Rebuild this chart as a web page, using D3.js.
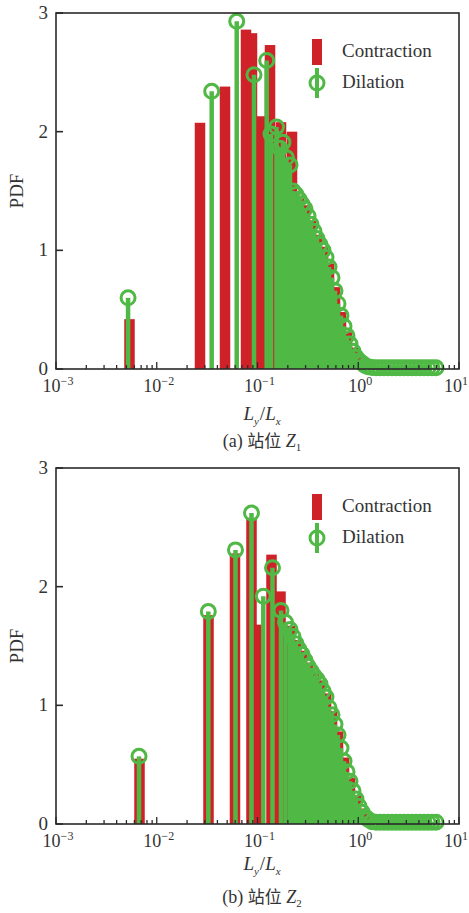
<!DOCTYPE html>
<html><head><meta charset="utf-8">
<script src="https://cdn.jsdelivr.net/npm/d3@7"></script>
<style>body{margin:0;background:#fff}svg{display:block}</style>
</head><body>
<script>
// ---------- DATA ----------
const xTickExponents = [-3, -2, -1, 0, 1];
const yTicks = [0, 1, 2, 3];
const seriesNames = ["Contraction", "Dilation"];
const captionLetters = ["a", "b"];
const captionSubs = ["1", "2"];

// Panel (a) — station Z1
const contractionXA = [0.005364, 0.02687, 0.04757, 0.07689, 0.08818, 0.1083, 0.1331, 0.1711, 0.2200,
  0.2582, 0.2961, 0.3396, 0.3895, 0.4468, 0.5125, 0.5878, 0.6742, 0.7733, 0.8869, 1.017, 1.167,
  1.501, 2.162, 3.117, 4.493];
const contractionYA = [0.42, 2.075, 2.38, 2.86, 2.83, 2.13, 2.73, 2.08, 2.00,
  1.46, 1.38, 1.25, 1.13, 1.03, 0.89, 0.69, 0.48, 0.31, 0.18, 0.10, 0.06,
  0.02, 0.02, 0.02, 0.02];
const dilationXA = [0.00519, 0.0351, 0.0622, 0.0923, 0.1234, 0.1361, 0.1544, 0.1672, 0.1791, 0.1940, 0.2102,
  0.2251, 0.2411, 0.2582, 0.2765, 0.2961, 0.3171, 0.3396, 0.3637, 0.3895, 0.4172, 0.4468, 0.4785,
  0.5125, 0.5488, 0.5878, 0.6295, 0.6742, 0.7220, 0.7733, 0.8281, 0.8869, 0.9499, 1.017, 1.090,
  1.167, 1.250, 1.369, 1.501, 1.644, 1.801, 1.974, 2.162, 2.369, 2.596, 2.844, 3.117, 3.415,
  3.742, 4.101, 4.493, 4.923, 5.395, 5.911];
const dilationYA = [0.60, 2.34, 2.93, 2.48, 2.60, 1.98, 2.04, 1.86, 1.91, 1.78, 1.72,
  1.50, 1.47, 1.43, 1.39, 1.35, 1.29, 1.22, 1.16, 1.10, 1.05, 1.00, 0.94,
  0.86, 0.77, 0.66, 0.55, 0.45, 0.36, 0.28, 0.21, 0.15, 0.10, 0.07, 0.05,
  0.03, 0.02, 0.012, 0.01, 0.01, 0.01, 0.01, 0.01, 0.01, 0.01, 0.01, 0.01, 0.01,
  0.01, 0.01, 0.01, 0.01, 0.01, 0.01];

// Panel (b) — station Z2
const contractionXB = [0.006742, 0.03264, 0.05979, 0.08718, 0.1023, 0.1377, 0.1692,
  0.2102, 0.2411, 0.2765, 0.3171, 0.3637, 0.4172, 0.4785, 0.5488, 0.6295, 0.7220, 0.8281,
  0.9499, 1.090, 1.250, 1.501, 2.162, 3.117, 4.493];
const contractionYB = [0.55, 1.76, 2.28, 2.58, 1.68, 2.27, 1.96,
  1.67, 1.55, 1.46, 1.36, 1.28, 1.21, 1.10, 0.95, 0.78, 0.56, 0.39,
  0.24, 0.13, 0.07, 0.02, 0.02, 0.02, 0.02];
const dilationXB = [0.006665, 0.03249, 0.06048, 0.08718, 0.1142, 0.1409, 0.1711, 0.1897, 0.2102,
  0.2251, 0.2411, 0.2582, 0.2765, 0.2961, 0.3171, 0.3396, 0.3637, 0.3895, 0.4172, 0.4468, 0.4785,
  0.5125, 0.5488, 0.5878, 0.6295, 0.6742, 0.7220, 0.7733, 0.8281, 0.8869, 0.9499, 1.017, 1.090,
  1.167, 1.250, 1.369, 1.501, 1.644, 1.801, 1.974, 2.162, 2.369, 2.596, 2.844, 3.117, 3.415,
  3.742, 4.101, 4.493, 4.923, 5.395, 5.911];
const dilationYB = [0.57, 1.79, 2.31, 2.62, 1.92, 2.16, 1.80, 1.70, 1.64,
  1.58, 1.52, 1.47, 1.43, 1.38, 1.33, 1.29, 1.25, 1.22, 1.18, 1.12, 1.07,
  0.98, 0.92, 0.84, 0.75, 0.64, 0.53, 0.44, 0.36, 0.28, 0.21, 0.15, 0.10,
  0.06, 0.04, 0.02, 0.015, 0.015, 0.015, 0.015, 0.015, 0.015, 0.015, 0.015, 0.015, 0.015,
  0.015, 0.015, 0.015, 0.015, 0.015, 0.015];

// ---------- DRAWING ----------
const W = 469, H = 913;
const RED = "#cf2128", GREEN = "#50b946";
const SERIF = "'Liberation Serif','Times New Roman',serif";
const CJK = "'Noto Sans CJK SC','Noto Sans CJK JP',sans-serif";
const INK = "#2a2a2a";
const svg = d3.select("body").append("svg").attr("width", W).attr("height", H);

const panels = [
  {top: 13, bottom: 369, cx: contractionXA, cy: contractionYA, dx: dilationXA, dy: dilationYA,
   labelBase: 420, capBase: 447, idx: 0},
  {top: 468, bottom: 824, cx: contractionXB, cy: contractionYB, dx: dilationXB, dy: dilationYB,
   labelBase: 870, capBase: 903, idx: 1}
];

panels.forEach(p => {
  const g = svg.append("g");
  const x = d3.scaleLog().domain([1e-3, 1e1]).range([56, 459]);
  const y = d3.scaleLinear().domain([0, 3]).range([p.bottom, p.top]);
  const barW = 10.5;

  // contraction bars
  g.append("g").selectAll("rect").data(d3.zip(p.cx, p.cy)).join("rect")
    .attr("x", d => x(d[0]) - barW / 2).attr("width", barW)
    .attr("y", d => y(d[1])).attr("height", d => y(0) - y(d[1]))
    .attr("fill", RED);

  // dilation stems + open circle markers
  const dd = d3.zip(p.dx, p.dy);
  g.append("g").selectAll("line").data(dd).join("line")
    .attr("x1", d => x(d[0])).attr("x2", d => x(d[0]))
    .attr("y1", y(0)).attr("y2", d => y(d[1]))
    .attr("stroke", GREEN).attr("stroke-width", 4.5);
  g.append("g").selectAll("circle").data(dd).join("circle")
    .attr("cx", d => x(d[0])).attr("cy", d => y(d[1])).attr("r", 7)
    .attr("fill", "none").attr("stroke", GREEN).attr("stroke-width", 3);

  // frame
  g.append("rect").attr("x", 56).attr("y", p.top).attr("width", 403).attr("height", p.bottom - p.top)
    .attr("fill", "none").attr("stroke", INK).attr("stroke-width", 1.6);

  // x ticks (major + minor, inward)
  const minor = [];
  for (let e = -3; e < 1; e++) for (let m = 2; m <= 9; m++) minor.push(m * Math.pow(10, e));
  g.append("g").selectAll("line").data(minor).join("line")
    .attr("x1", d => x(d)).attr("x2", d => x(d)).attr("y1", y(0)).attr("y2", y(0) - 4)
    .attr("stroke", INK).attr("stroke-width", 1.3);
  const majors = xTickExponents.map(e => Math.pow(10, e));
  g.append("g").selectAll("line").data(majors).join("line")
    .attr("x1", d => x(d)).attr("x2", d => x(d)).attr("y1", y(0)).attr("y2", y(0) - 7)
    .attr("stroke", INK).attr("stroke-width", 1.3);
  // y ticks
  g.append("g").selectAll("line").data(yTicks).join("line")
    .attr("x1", 56).attr("x2", 63).attr("y1", d => y(d)).attr("y2", d => y(d))
    .attr("stroke", INK).attr("stroke-width", 1.6);

  // x tick labels (last one kept inside the page edge)
  const lastE = xTickExponents[xTickExponents.length - 1];
  const xl = g.append("g").selectAll("text").data(xTickExponents).join("text")
    .attr("x", d => d === lastE ? W - 1 : x(Math.pow(10, d)) + 2).attr("y", y(0) + 23)
    .attr("text-anchor", d => d === lastE ? "end" : "middle")
    .attr("font-family", SERIF).attr("font-size", 18).attr("fill", "#333");
  xl.append("tspan").text("10");
  xl.append("tspan").attr("dy", -7).attr("font-size", 12)
    .text(d => d < 0 ? "\u2212" + Math.abs(d) : String(d));

  // y tick labels
  g.append("g").selectAll("text").data(yTicks).join("text")
    .attr("x", 48).attr("y", d => y(d) + 6).attr("text-anchor", "end")
    .attr("font-family", SERIF).attr("font-size", 19).attr("fill", "#333").text(d => d);

  // y label
  g.append("text").attr("transform", `translate(23,${(p.top + p.bottom) / 2}) rotate(-90)`)
    .attr("text-anchor", "middle").attr("font-family", SERIF).attr("font-size", 19).attr("fill", "#333")
    .text("PDF");

  // x label L_y / L_x
  const xt = g.append("text").attr("x", 262).attr("y", p.labelBase).attr("text-anchor", "middle")
    .attr("font-family", SERIF).attr("font-size", 19).attr("fill", "#333");
  xt.append("tspan").attr("font-style", "italic").text("L");
  xt.append("tspan").attr("font-style", "italic").attr("font-size", 11).attr("dy", 5).text("y");
  xt.append("tspan").attr("dy", -5).attr("dx", 1).text("/");
  xt.append("tspan").attr("font-style", "italic").text("L");
  xt.append("tspan").attr("font-style", "italic").attr("font-size", 11).attr("dy", 5).text("x");

  // caption
  const ct = g.append("text").attr("x", 262).attr("y", p.capBase).attr("text-anchor", "middle")
    .attr("font-family", SERIF).attr("font-size", 18).attr("fill", "#333");
  ct.append("tspan").text("(" + captionLetters[p.idx] + ") ");
  ct.append("tspan").attr("font-family", CJK).attr("font-size", 17).text("站位");
  ct.append("tspan").text(" ");
  ct.append("tspan").attr("font-style", "italic").text("Z");
  ct.append("tspan").attr("font-size", 11).attr("dy", 4).text(captionSubs[p.idx]);

  // legend
  const lg = g.append("g");
  lg.append("rect").attr("x", 312).attr("y", p.top + 26).attr("width", 10).attr("height", 26).attr("fill", RED);
  lg.append("text").attr("x", 342).attr("y", p.top + 44).attr("font-family", SERIF)
    .attr("font-size", 19).attr("fill", "#333").text(seriesNames[0]);
  lg.append("line").attr("x1", 317).attr("x2", 317).attr("y1", p.top + 55).attr("y2", p.top + 85)
    .attr("stroke", GREEN).attr("stroke-width", 4);
  lg.append("circle").attr("cx", 317).attr("cy", p.top + 70).attr("r", 7)
    .attr("fill", "none").attr("stroke", GREEN).attr("stroke-width", 3);
  lg.append("text").attr("x", 342).attr("y", p.top + 75).attr("font-family", SERIF)
    .attr("font-size", 19).attr("fill", "#333").text(seriesNames[1]);
});
</script>
</body></html>
